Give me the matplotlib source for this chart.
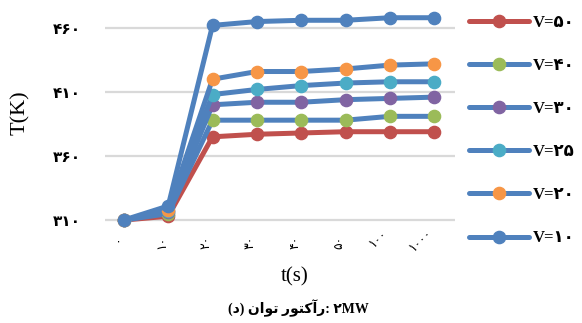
import numpy as np
import matplotlib.pyplot as plt

# time steps (category axis) and temperatures per velocity
t_labels = ['۰', '۱۰', '۲۰', '۳۰', '۴۰', '۵۰', '۱۰۰', '۱۰۰۰']
v_labels = ['V=۵۰', 'V=۴۰', 'V=۳۰', 'V=۲۵', 'V=۲۰', 'V=۱۰']
T_v50 = [310, 313, 375, 377, 378, 379, 379, 379]
T_v40 = [310, 315, 388, 388, 388, 388, 391, 391]
T_v30 = [310, 316, 400, 402, 402, 404, 405, 406]
T_v25 = [310, 317, 408, 412, 415, 417, 418, 418]
T_v20 = [310, 318, 420, 426, 426, 428, 431, 432]
T_v10 = [310, 321, 462, 465, 466, 466, 468, 468]
y_ticks = [310, 360, 410, 460]
y_tick_labels = ['۳۱۰', '۳۶۰', '۴۱۰', '۴۶۰']

series = [T_v50, T_v40, T_v30, T_v25, T_v20, T_v10]
line_colors = ['#C0504D', '#4F81BD', '#4F81BD', '#4F81BD', '#4F81BD', '#4F81BD']
marker_colors = ['#C0504D', '#9BBB59', '#8064A2', '#4BACC6', '#F79646', '#4F81BD']

fig = plt.figure(figsize=(5.82, 3.23), dpi=100)
ax = fig.add_axes([0.180, 0.279, 0.602, 0.682])

x = np.arange(len(t_labels))
for T, lab, lc, mc in zip(series, v_labels, line_colors, marker_colors):
    ax.plot(x, T, color=lc, linewidth=3.6, marker='o', markersize=8.8,
            markerfacecolor=mc, markeredgecolor=mc, label=lab,
            solid_capstyle='round', clip_on=False)

ax.set_xlim(-0.43, 7.47)
ax.set_ylim(300, 472)
ax.set_yticks(y_ticks)
ax.set_yticklabels(y_tick_labels, family=['DejaVu Sans'], fontsize=11,
                   fontweight='bold')
ax.set_xticks(x)
ax.set_xticklabels(t_labels, family=['DejaVu Sans'], fontsize=9)
for i, lbl in enumerate(ax.get_xticklabels()):
    lbl.set_rotation(90 if i < 6 else 45)
    lbl.set_rotation_mode('anchor')
    lbl.set_ha('right')
    lbl.set_va('bottom')
ax.tick_params(axis='both', length=0)
ax.tick_params(axis='y', pad=17)
ax.tick_params(axis='x', pad=2)
for s in ax.spines.values():
    s.set_visible(False)
ax.grid(axis='y', color='#D9D9D9', linewidth=1.6)
ax.set_axisbelow(True)

leg = ax.legend(loc='upper left', bbox_to_anchor=(0.805, 0.955),
                bbox_transform=fig.transFigure, frameon=False,
                prop={'family': ['Liberation Serif', 'DejaVu Sans'],
                      'size': 12, 'weight': 'bold'},
                handlelength=3.6, handletextpad=0.25, labelspacing=1.63,
                numpoints=1, borderaxespad=0, borderpad=0)

fig.text(0.035, 0.65, 'T(K)', rotation=90, ha='center', va='center',
         family='Liberation Serif', fontsize=16)
fig.text(0.507, 0.142, 't(s)', ha='center', va='center',
         family='Liberation Serif', fontsize=15)
# caption written in display order with joined letter forms
caption = '(ﺩ) ﻥﺍﻮﺗ ﺭﻮﺘﮐﺁﺭ: ۲MW'
fig.text(0.512, 0.047, caption, ha='center', va='center',
         family=['Liberation Serif', 'DejaVu Sans'], fontsize=10,
         fontweight='bold')

plt.savefig('out.png', dpi=100)
